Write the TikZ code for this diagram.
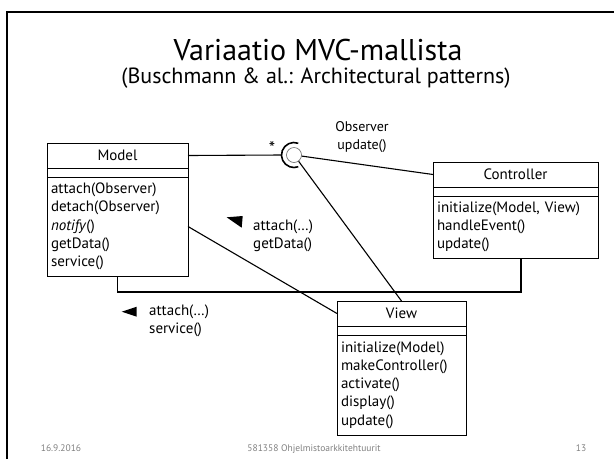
\documentclass[tikz,border=0pt]{standalone}
\usepackage{fontspec}
\setmainfont{PT Sans}
\usetikzlibrary{positioning}

\definecolor{footgray}{gray}{0.5}

\tikzset{
  box/.style={draw, line width=0.8pt, outer sep=0pt, inner sep=0pt},
  namebox/.style={box, minimum height=25pt, font=\fontsize{15}{18}\selectfont},
  gapbox/.style={box, minimum height=9pt},
  opsbox/.style={box, align=left, inner xsep=4pt, inner ysep=3pt, font=\fontsize{15}{18.2}\selectfont},
  link/.style={line width=1.1pt},
  msg/.style={align=left, anchor=west, inner sep=0pt, font=\fontsize{15}{18}\selectfont},
  foot/.style={anchor=base, text=footgray, font=\fontsize{9.5}{11}\selectfont},
}

\newcommand{\umlclass}[6]{%
  % #1 = node name
  % #2 = top left corner
  % #3 = box width
  % #4 = class name
  % #5 = operations
  % #6 = height of operation part
  \node[namebox, minimum width=#3, anchor=north west] (#1) at #2 {#4};
  \node[gapbox, minimum width=#3, below=0pt of #1] (#1-gap) {};
  \node[opsbox, text width=#3-8pt, minimum height=#6, below=0pt of #1-gap] (#1-ops) {#5};
}

\begin{document}
\begin{tikzpicture}[x=1pt, y=-1pt]
  \useasboundingbox (0,0) rectangle (614,459);
  \draw[line width=2pt] (7,459) -- (7,12) -- (614,12);
  \node[anchor=base, font=\fontsize{30}{34}\selectfont] (title) at (318,60) {Variaatio MVC-mallista};
  \node[anchor=base, font=\fontsize{22}{26}\selectfont] (subtitle) at (316,83) {(Buschmann \& al.: Architectural patterns)};

  \umlclass{model}{(47,143)}{141pt}{Model}{attach(Observer)\\detach(Observer)\\\textit{notify}()\\getData()\\service()}{99pt}
  \umlclass{ctrl}{(433,162)}{165pt}{Controller}{initialize(Model, View)\\handleEvent()\\update()}{62pt}
  \umlclass{view}{(337,301)}{129pt}{View}{initialize(Model)\\makeController()\\activate()\\display()\\update()}{100pt}

  % observer interface
  \node[circle, draw=black!60, line width=0.6pt, minimum size=15pt, inner sep=0pt] (obs) at (294,155) {};
  \draw[line width=1.6pt] (obs.center) ++(70:12.5pt) arc[start angle=70, end angle=290, radius=12.5pt];
  \coordinate (sock) at ([xshift=-12.5pt]obs.center);
  \node[font=\fontsize{18}{18}\selectfont, inner sep=0pt] (many) at (272,148) {*};
  \node[align=center, inner sep=0pt, font=\fontsize{14}{18}\selectfont] (obslabel) at (362,137) {Observer\\update()};

  \draw[link] (model.east) -- (sock);
  \draw[link] (obs) -- (ctrl.west);
  \draw[link] (obs) -- (view.north);
  \draw[link] (model-ops.east) -- (view.west);
  \draw[link] (model-ops.south) -- ++(0,16) -| ([xshift=5.5pt]ctrl-ops.south);

  % messages
  \node[msg] (getmsg) at (253,236) {attach(…)\\getData()};
  \fill (226.7,217.3) -- (242.7,216) -- (241.7,227.7) -- cycle;
  \node[msg] (svcmsg) at (149,321) {attach(…)\\service()};
  \fill (121.7,311.7) -- (136.7,306.7) -- (136.7,316.7) -- cycle;

  \node[foot] (date) at (61,451) {16.9.2016};
  \node[foot] (course) at (314,451) {581358 Ohjelmistoarkkitehtuurit};
  \node[foot] (page) at (581,451) {13};
\end{tikzpicture}
\end{document}
